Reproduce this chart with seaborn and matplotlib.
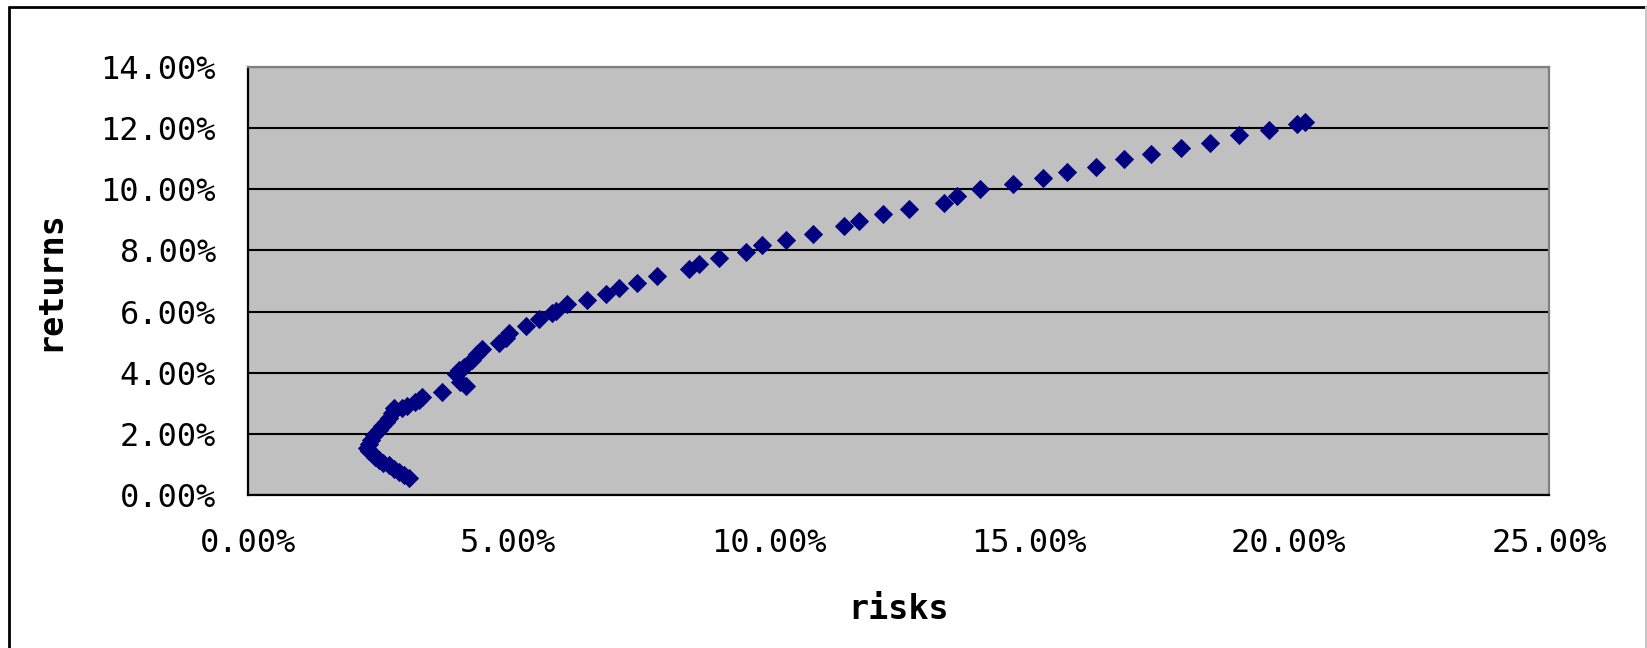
import matplotlib
matplotlib.use("Agg")
import matplotlib.pyplot as plt
import seaborn as sns
import pandas as pd
from matplotlib.ticker import PercentFormatter
from matplotlib.lines import Line2D

risks = [3.10, 3.00, 2.90, 2.80, 2.71, 2.60, 2.52, 2.45, 2.39, 2.33, 2.29, 2.32, 2.36,
         2.43, 2.52, 2.58, 2.65, 2.71, 2.77, 2.81, 2.95, 3.06, 3.20, 3.29, 3.35, 3.73,
         4.00, 4.08, 4.19, 4.05, 4.15, 4.31, 4.40, 4.50, 4.83, 4.95, 5.02, 5.35, 5.60,
         5.85, 5.92, 6.13, 6.52, 6.88, 7.13, 7.48, 7.85, 8.48, 8.67, 9.06, 9.56, 9.87,
         10.33, 10.85, 11.46, 11.75, 12.20, 12.71, 13.38, 13.63, 14.06, 14.70, 15.27,
         15.73, 16.29, 16.83, 17.36, 17.92, 18.48, 19.04, 19.62, 20.15, 20.31]
returns = [0.56, 0.65, 0.75, 0.86, 0.98, 1.05, 1.14, 1.25, 1.37, 1.45, 1.55, 1.68, 1.79,
           1.95, 2.12, 2.25, 2.38, 2.52, 2.67, 2.84, 2.85, 2.90, 3.03, 3.12, 3.20, 3.36,
           3.97, 3.70, 3.55, 4.10, 4.20, 4.40, 4.60, 4.79, 4.98, 5.15, 5.31, 5.54, 5.77,
           5.96, 6.03, 6.25, 6.38, 6.58, 6.78, 6.94, 7.17, 7.39, 7.56, 7.75, 7.95, 8.18,
           8.34, 8.53, 8.80, 8.96, 9.18, 9.35, 9.54, 9.77, 10.00, 10.16, 10.36,
           10.55, 10.72, 10.98, 11.14, 11.34, 11.53, 11.76, 11.95, 12.15, 12.20]

x_ticks = [0.00, 0.05, 0.10, 0.15, 0.20, 0.25]
y_ticks = [0.00, 0.02, 0.04, 0.06, 0.08, 0.10, 0.12, 0.14]

df = pd.DataFrame({"risks": [r / 100 for r in risks],
                   "returns": [v / 100 for v in returns]})

sns.set_style("white")
plt.rcParams["font.family"] = ["DejaVu Sans Mono", "DejaVu Sans"]
plt.rcParams["text.color"] = "black"
plt.rcParams["axes.labelcolor"] = "black"
plt.rcParams["xtick.color"] = "black"
plt.rcParams["ytick.color"] = "black"

fig = plt.figure(figsize=(16.47, 6.48), dpi=100)
ax = fig.add_axes([248 / 1647, 1 - 495 / 648, (1549 - 248) / 1647, (495 - 67) / 648])
ax.set_facecolor("#C0C0C0")

ax.set_xlim(0, 0.25)
ax.set_ylim(0, 0.14)
ax.set_xticks(x_ticks)
ax.set_yticks(y_ticks)
ax.xaxis.set_major_formatter(PercentFormatter(xmax=1, decimals=2))
ax.yaxis.set_major_formatter(PercentFormatter(xmax=1, decimals=2))

ax.yaxis.grid(True, color="black", linewidth=1.5)
ax.xaxis.grid(False)
ax.set_axisbelow(True)

sns.scatterplot(data=df, x="risks", y="returns", ax=ax, marker="D", s=85,
                color="#000080", edgecolor="#000080", linewidth=0.6, zorder=3)

for side in ["left", "bottom"]:
    ax.spines[side].set_color("black")
    ax.spines[side].set_linewidth(1.6)
for side in ["top", "right"]:
    ax.spines[side].set_color("#808080")
    ax.spines[side].set_linewidth(1.6)

ax.tick_params(axis="x", direction="in", length=10, width=1.4, color="black",
               labelcolor="black", pad=24, labelsize=23)
ax.tick_params(axis="y", direction="in", length=10, width=1.4, color="black",
               labelcolor="black", pad=23, labelsize=23)

ax.set_xlabel("risks", fontsize=24, fontweight="bold", labelpad=24, color="black")
ax.set_ylabel("returns", fontsize=24, fontweight="bold", labelpad=25, color="black")

# chart border
fig.add_artist(Line2D([9 / 1647, 9 / 1647], [0, 1 - 7 / 648], transform=fig.transFigure,
                      color="black", linewidth=2))
fig.add_artist(Line2D([9 / 1647, 1646 / 1647], [1 - 7 / 648, 1 - 7 / 648],
                      transform=fig.transFigure, color="black", linewidth=2))
fig.add_artist(Line2D([1646 / 1647, 1646 / 1647], [0, 1 - 7 / 648],
                      transform=fig.transFigure, color="#C8C8C8", linewidth=1.5))

fig.savefig("out.png", dpi=100)
